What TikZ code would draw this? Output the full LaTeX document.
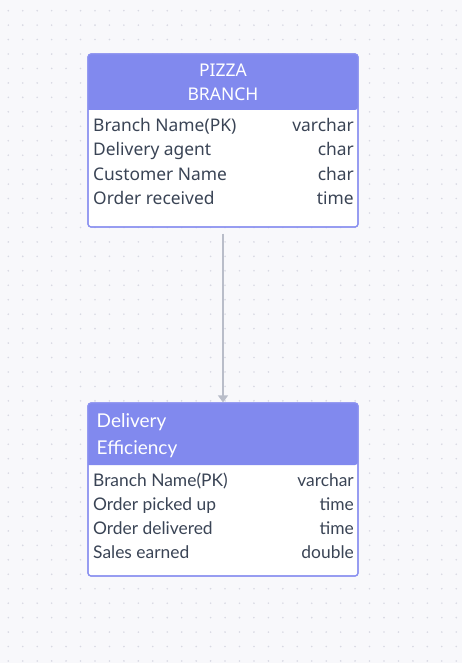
\documentclass[tikz,border=0pt]{standalone}
\usepackage{fontspec}
\setmainfont{Noto Sans}
\newfontfamily\latofont{Lato}
\usetikzlibrary{arrows.meta}
\definecolor{bgc}{HTML}{F8F8FB}
\definecolor{dotc}{HTML}{D8D9E3}
\definecolor{headc}{HTML}{8189EE}
\definecolor{borderc}{HTML}{8A90F0}
\definecolor{txtc}{HTML}{3A4455}
\definecolor{linec}{HTML}{B9BDC9}
\tikzset{
  tbox/.style={draw=borderc, line width=1.2pt, fill=white, rounded corners=3pt, minimum width=270pt, minimum height=173pt, inner sep=0pt},
  rowl/.style={anchor=base west, text=txtc, inner sep=0pt, font=\fontsize{17.4}{19}\selectfont},
  rowr/.style={anchor=base east, text=txtc, inner sep=0pt, font=\fontsize{17.4}{19}\selectfont},
  rowlb/.style={rowl, font=\latofont\fontsize{17.4}{19}\selectfont},
  rowrb/.style={rowr, font=\latofont\fontsize{17.4}{19}\selectfont},
  headt/.style={text=white, inner sep=0pt, anchor=base},
  conn/.style={draw=linec, line width=1.2pt, -{Triangle[length=7pt,width=10pt,fill=linec]}}
}
\begin{document}
\begin{tikzpicture}[x=1pt,y=-1pt]
\fill[bgc] (0,0) rectangle (462,663);
\useasboundingbox (0,0) rectangle (462,663);
\foreach \i in {0,...,31} {
  \foreach \j in {0,...,45} {
    \fill[dotc] ({8.3+14.45*\i},{10.7+14.45*\j}) circle (0.9pt);
  }
}
% Box 1
\node[tbox] (b1) at (223,140.5) {};
\fill[headc, rounded corners=3pt] (88,110) -- (88,54) -- (358,54) -- (358,110) [sharp corners] -- cycle;
\draw[borderc, line width=1.2pt, rounded corners=3pt] (88,54) rectangle (358,227);
\node[headt, font=\fontsize{17.5}{19}\selectfont] (h1a) at (223,77) {PIZZA};
\node[headt, font=\fontsize{17.5}{19}\selectfont] (h1b) at (223,101) {BRANCH};
\node[rowl] (r11) at (93,132) {Branch Name(PK)};
\node[rowr] (t11) at (354,132) {varchar};
\node[rowl] (r12) at (93,156) {Delivery agent};
\node[rowr] (t12) at (354,156) {char};
\node[rowl] (r13) at (93,180) {Customer Name};
\node[rowr] (t13) at (354,180) {char};
\node[rowl] (r14) at (93,204) {Order received};
\node[rowr] (t14) at (354,204) {time};
% Box 2
\node[tbox] (b2) at (223,489.5) {};
\fill[headc, rounded corners=3pt] (88,465) -- (88,403) -- (358,403) -- (358,465) [sharp corners] -- cycle;
\draw[borderc, line width=1.2pt, rounded corners=3pt] (88,403) rectangle (358,576);
\node[headt, anchor=base west, font=\latofont\fontsize{19}{21}\selectfont] (h2a) at (96.5,427.5) {Delivery};
\node[headt, anchor=base west, font=\latofont\fontsize{19}{21}\selectfont] (h2b) at (96.5,454.5) {Efficiency};
\node[rowlb] (r21) at (93,486) {Branch Name(PK)};
\node[rowrb] (t21) at (354,486) {varchar};
\node[rowlb] (r22) at (93,510) {Order picked up};
\node[rowrb] (t22) at (354,510) {time};
\node[rowlb] (r23) at (93,534) {Order delivered};
\node[rowrb] (t23) at (354,534) {time};
\node[rowlb] (r24) at (93,558) {Sales earned};
\node[rowrb] (t24) at (354,558) {double};
% connector
\draw[conn, shorten <=6pt] (b1.south) -- (b2.north);
\end{tikzpicture}
\end{document}
